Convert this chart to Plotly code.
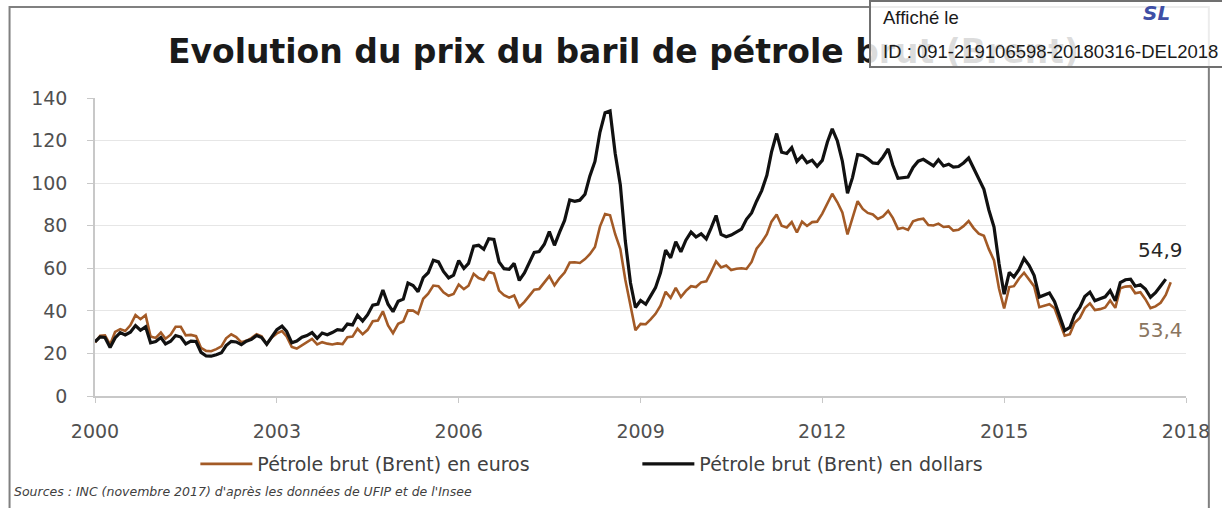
import pandas as pd
import plotly.graph_objects as go

# Monthly Brent price, US dollars per barrel (Jan 2000 - Sep 2017)
dollars = [
    25.5, 27.8, 27.5, 22.8, 27.3, 29.8, 28.7, 30.0, 33.1, 30.9, 32.5, 25.0,
    25.6, 27.5, 24.5, 25.7, 28.4, 27.7, 24.5, 25.8, 25.6, 20.5, 18.8, 18.7,
    19.4, 20.3, 23.7, 25.7, 25.4, 24.1, 25.7, 26.6, 28.4, 27.5, 24.3, 28.0,
    31.2, 32.8, 30.3, 25.0, 25.8, 27.6, 28.4, 29.8, 27.1, 29.6, 28.8, 29.8,
    31.2, 30.9, 33.8, 33.4, 37.9, 35.2, 38.2, 42.7, 43.2, 49.8, 43.1, 39.6,
    44.5, 45.5, 53.1, 51.9, 49.0, 55.6, 57.9, 63.8, 63.0, 58.5, 55.5, 56.8,
    63.6, 59.9, 62.3, 70.4, 70.8, 68.9, 73.9, 73.6, 63.0, 59.8, 59.5, 62.3,
    54.3, 57.8, 62.1, 67.5, 67.9, 71.3, 77.2, 70.8, 77.0, 82.5, 92.1, 91.5,
    92.0, 94.8, 103.3, 110.2, 123.9, 133.1, 133.9, 113.9, 99.1, 72.8, 53.2, 41.6,
    44.9, 43.1, 46.8, 50.9, 57.9, 68.6, 64.9, 72.5, 67.7, 73.2, 77.0, 74.7,
    76.2, 73.8, 78.8, 84.8, 75.9, 74.8, 75.6, 77.1, 78.4, 83.0, 86.0, 91.5,
    96.5, 103.7, 114.6, 123.3, 114.5, 113.9, 116.7, 110.2, 112.8, 109.6, 110.8, 107.9,
    110.7, 119.3, 125.5, 119.8, 110.3, 95.2, 102.6, 113.4, 113.0, 111.5, 109.5, 109.2,
    112.3, 116.1, 108.5, 102.3, 102.6, 102.9, 107.4, 110.3, 111.2, 109.5, 108.1, 111.0,
    108.1, 108.9, 107.5, 107.8, 109.5, 111.8, 106.8, 101.6, 97.1, 87.4, 79.4, 62.3,
    47.8, 58.1, 55.9, 59.5, 64.6, 61.3, 56.6, 46.5, 47.6, 48.4, 44.3, 38.0,
    30.7, 32.2, 38.2, 41.6, 46.7, 48.8, 44.7, 45.7, 46.6, 49.5, 44.7, 53.3,
    54.6, 54.9, 51.6, 52.3, 50.3, 46.4, 48.5, 51.7, 54.9,
]

# Monthly Brent price, euros per barrel (Jan 2000 - Oct 2017)
euros = [
    25.1, 28.3, 28.5, 24.1, 30.1, 31.4, 30.5, 33.2, 38.0, 36.1, 38.0, 27.9,
    27.3, 29.8, 26.9, 28.8, 32.5, 32.5, 28.5, 28.7, 28.1, 22.6, 21.2, 21.0,
    22.0, 23.3, 27.1, 29.0, 27.7, 25.2, 25.9, 27.2, 29.0, 28.0, 24.3, 27.5,
    29.4, 30.5, 28.0, 23.0, 22.3, 23.7, 25.0, 26.8, 24.2, 25.3, 24.6, 24.2,
    24.7, 24.4, 27.6, 27.9, 31.6, 29.0, 31.1, 35.1, 35.4, 39.8, 33.2, 29.5,
    33.9, 35.0, 40.2, 40.1, 38.6, 45.7, 48.1, 51.9, 51.6, 48.7, 47.1, 47.9,
    52.4, 50.2, 51.8, 57.4, 55.4, 54.5, 58.3, 57.5, 49.5, 47.4, 46.2, 47.2,
    41.8, 44.2, 46.9, 49.9, 50.3, 53.1, 56.3, 52.0, 55.4, 58.0, 62.7, 62.8,
    62.5, 64.3, 66.6, 70.0, 79.6, 85.5, 84.9, 76.0, 69.0, 54.6, 41.8, 30.9,
    33.9, 33.7, 35.9, 38.6, 42.4, 49.0, 46.1, 50.8, 46.5, 49.4, 51.6, 51.2,
    53.4, 53.9, 58.1, 63.2, 60.4, 61.3, 59.2, 59.8, 60.0, 59.7, 63.0, 69.2,
    72.2, 76.0, 81.9, 85.3, 80.0, 79.2, 81.7, 76.8, 81.9, 79.9, 81.7, 81.9,
    85.7, 90.2, 95.0, 91.0, 86.2, 75.9, 83.5, 91.5, 87.9, 86.0, 85.3, 83.2,
    84.4, 87.0, 83.7, 78.5, 79.0, 78.0, 82.1, 82.9, 83.3, 80.3, 80.1, 81.0,
    79.4, 79.7, 77.7, 78.1, 79.8, 82.2, 78.9, 76.3, 75.3, 69.0, 63.7, 50.5,
    41.1, 51.2, 51.6, 55.2, 57.9, 54.6, 51.5, 41.7, 42.4, 43.1, 41.2, 34.9,
    28.3, 29.0, 34.4, 36.7, 41.3, 43.5, 40.4, 40.8, 41.6, 44.9, 41.4, 50.6,
    51.4, 51.6, 48.3, 48.8, 45.5, 41.3, 42.1, 43.8, 47.5, 53.4,
]

months_dollars = pd.date_range("2000-01-01", periods=len(dollars), freq="MS")
months_euros = pd.date_range("2000-01-01", periods=len(euros), freq="MS")

tick_years = ["2000", "2003", "2006", "2009", "2012", "2015", "2018"]
y_ticks = [0, 20, 40, 60, 80, 100, 120, 140]

title_text = "Evolution du prix du baril de pétrole brut (Brent)"
label_dollars = "54,9"
label_euros = "53,4"
source_text = "Sources : INC (novembre 2017) d'après les données de UFIP et de l'Insee"
stamp_line1 = "Affiché le"
stamp_line2 = "ID : 091-219106598-20180316-DEL2018"

BROWN = "#a35a26"
FONT = "DejaVu Sans, sans-serif"
ARIAL = "Liberation Sans, Arial, sans-serif"

W, H = 1222, 508
L, R, T, B = 95, 29, 98, 112
PW, PH = W - L - R, H - T - B


def px(x):
    return (x - L) / PW


def py(y):
    return (H - B - y) / PH


fig = go.Figure()
fig.add_trace(go.Scatter(
    x=months_euros, y=euros, mode="lines",
    name="Pétrole brut (Brent) en euros",
    line=dict(color=BROWN, width=2.6),
))
fig.add_trace(go.Scatter(
    x=months_dollars, y=dollars, mode="lines",
    name="Pétrole brut (Brent) en dollars",
    line=dict(color="#111111", width=3.2),
))

fig.update_layout(
    width=W, height=H,
    margin=dict(l=L, r=R, t=T, b=B),
    paper_bgcolor="white", plot_bgcolor="white",
    showlegend=True,
    legend=dict(
        orientation="h", x=px(196), xanchor="left", y=py(464), yanchor="middle",
        font=dict(family=FONT, size=19, color="#404040"),
        itemwidth=52, entrywidth=375, entrywidthmode="pixels",
        tracegroupgap=0, bgcolor="rgba(0,0,0,0)",
    ),
    xaxis=dict(
        type="date",
        range=["2000-01-01", "2018-01-01"],
        tickvals=[f"{y}-01-01" for y in tick_years],
        ticktext=tick_years,
        showgrid=False, zeroline=False,
        showline=True, linecolor="#c8c8c8", linewidth=1.5,
        ticks="outside", ticklen=5, tickcolor="#c8c8c8",
        tickfont=dict(family=FONT, size=19, color="#505050"),
        ticklabelstandoff=12,
    ),
    yaxis=dict(
        range=[0, 140],
        tickvals=y_ticks,
        showgrid=True, gridcolor="#e6e6e6", gridwidth=1,
        zeroline=False,
        showline=True, linecolor="#c8c8c8", linewidth=1.5,
        ticks="outside", ticklen=6, tickcolor="#c8c8c8",
        tickfont=dict(family=FONT, size=19, color="#505050"),
        ticklabelstandoff=16,
    ),
)

# outer frame
fig.add_shape(type="rect", xref="paper", yref="paper",
              x0=px(9), x1=px(1216), y0=py(530), y1=py(7),
              line=dict(color="#808080", width=2), layer="below")

annotations = [
    dict(text=f"<b>{title_text}</b>", xref="paper", yref="paper",
         x=px(166), y=py(51), xanchor="left", yanchor="middle", showarrow=False,
         font=dict(family=FONT, size=33, color="#1a1a1a")),
    dict(text=label_dollars, x="2017-08-01", y=68.5, xref="x", yref="y",
         xanchor="center", yanchor="middle", showarrow=False,
         font=dict(family=FONT, size=20, color="#262626")),
    dict(text=label_euros, x="2017-08-01", y=31.2, xref="x", yref="y",
         xanchor="center", yanchor="middle", showarrow=False,
         font=dict(family=FONT, size=20, color="#8a7560")),
    dict(text=f"<i>{source_text}</i>", xref="paper", yref="paper",
         x=px(11), y=py(491), xanchor="left", yanchor="middle", showarrow=False,
         font=dict(family=FONT, size=12.5, color="#404040")),
    # stamp box (semi-transparent, as in the scanned document)
    dict(text=" ", xref="paper", yref="paper",
         x=px(874), y=py(0), xanchor="left", yanchor="top", showarrow=False,
         width=360, height=64, bgcolor="rgba(255,255,255,0.85)",
         bordercolor="#707070", borderwidth=2, borderpad=0),
    dict(text=stamp_line1, xref="paper", yref="paper",
         x=px(886), y=py(18), xanchor="left", yanchor="middle", showarrow=False,
         font=dict(family=ARIAL, size=18.5, color="#1a1a1a")),
    dict(text=stamp_line2, xref="paper", yref="paper",
         x=px(886), y=py(51), xanchor="left", yanchor="middle", showarrow=False,
         font=dict(family=ARIAL, size=18.5, color="#1a1a1a")),
    dict(text="<b><i>SL</i></b>", xref="paper", yref="paper",
         x=px(1148), y=py(13), xanchor="left", yanchor="middle", showarrow=False,
         font=dict(family="DejaVu Sans, sans-serif", size=20, color="#3f4fa6")),
]
fig.update_layout(annotations=annotations)

fig.write_html("out.html", config={"displayModeBar": False})

# remove the browser's default page margin so the figure sits at (0, 0)
with open("out.html", "r", encoding="utf-8") as f:
    html = f.read()
html = html.replace("<head>", "<head><style>html,body{margin:0;padding:0;}</style>", 1)
with open("out.html", "w", encoding="utf-8") as f:
    f.write(html)
